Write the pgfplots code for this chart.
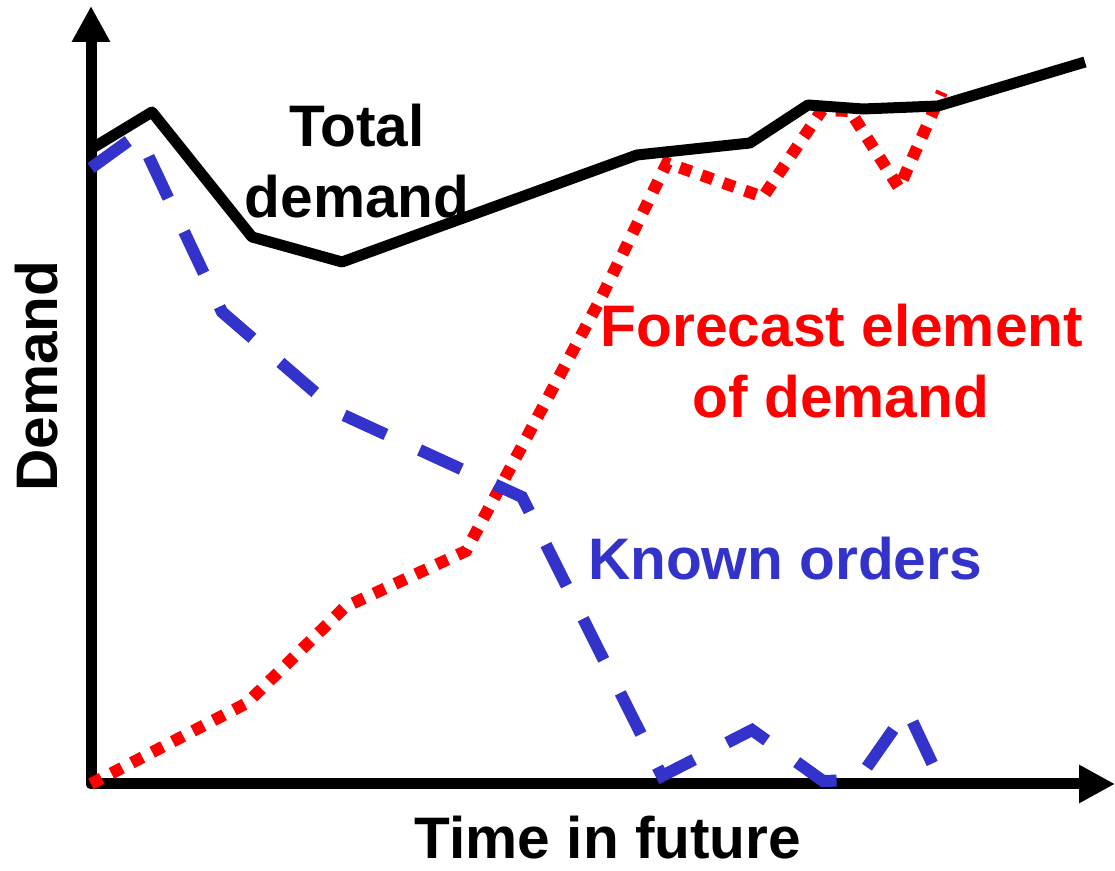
\documentclass[border=0pt]{standalone}
\usepackage{fontspec}
\setmainfont{Liberation Sans}
\usepackage{pgfplots}
\pgfplotsset{compat=1.18}
\usetikzlibrary{arrows.meta}
\definecolor{kblue}{RGB}{51,51,204}
\definecolor{kred}{RGB}{255,0,0}
\newcommand{\bigf}{\fontsize{29.3}{35.5}\selectfont\bfseries}
\begin{document}
\begin{tikzpicture}
\begin{axis}[
  scale only axis,
  width=557.5pt, height=435.5pt,
  xmin=0, xmax=1115, ymin=0, ymax=871,
  hide axis, clip=false,
]
% axes with arrows
\draw[line width=5.5pt, line join=round, {Triangle[length=18pt,width=18pt]}-{Triangle[length=18pt,width=18pt]}]
  (axis cs:91,865) -- (axis cs:91,87) -- (axis cs:1115,87);
% Forecast element of demand (red dotted)
\addplot[kred, line width=6pt, line cap=butt, dash pattern=on 6pt off 5.5pt] coordinates {
 (91,87) (247,168) (345,264) (466,320) (600,571) (667,708) (763,674) (822,761) (850,760) (899,683) (942,779)
};
% Known orders (blue dashed)
\addplot[kblue, line width=6pt, line cap=butt, dash pattern=on 23pt off 18.5pt] coordinates {
 (91,703) (138,737) (222,559) (339,458) (522,374) (662,95) (752,141) (823,90) (858,91) (907,161) (940,91)
};
% Total demand (black solid)
\addplot[black, line width=5.5pt, line join=round] coordinates {
 (91,722) (152,759) (252,634) (342,609) (637,716) (750,728) (808,766) (863,762) (938,765) (1085,809)
};
\node[anchor=base, font=\bigf] at (axis cs:357,724) {Total};
\node[anchor=base, font=\bigf] at (axis cs:357,653) {demand};
\node[anchor=base, font=\bigf, text=kred] at (axis cs:842,524) {Forecast element};
\node[anchor=base, font=\bigf, text=kred] at (axis cs:841,453) {of demand};
\node[anchor=base, font=\bigf, text=kblue] at (axis cs:785,291) {Known orders};
\node[anchor=base, font=\bigf, inner sep=0pt] at (axis cs:608,12) {Time in future};
\node[anchor=base, font=\bigf, rotate=90] at (axis cs:57,495) {Demand};
\end{axis}
\pgfresetboundingbox
\path (current axis.south west) rectangle (current axis.north east);
\end{tikzpicture}
\end{document}
